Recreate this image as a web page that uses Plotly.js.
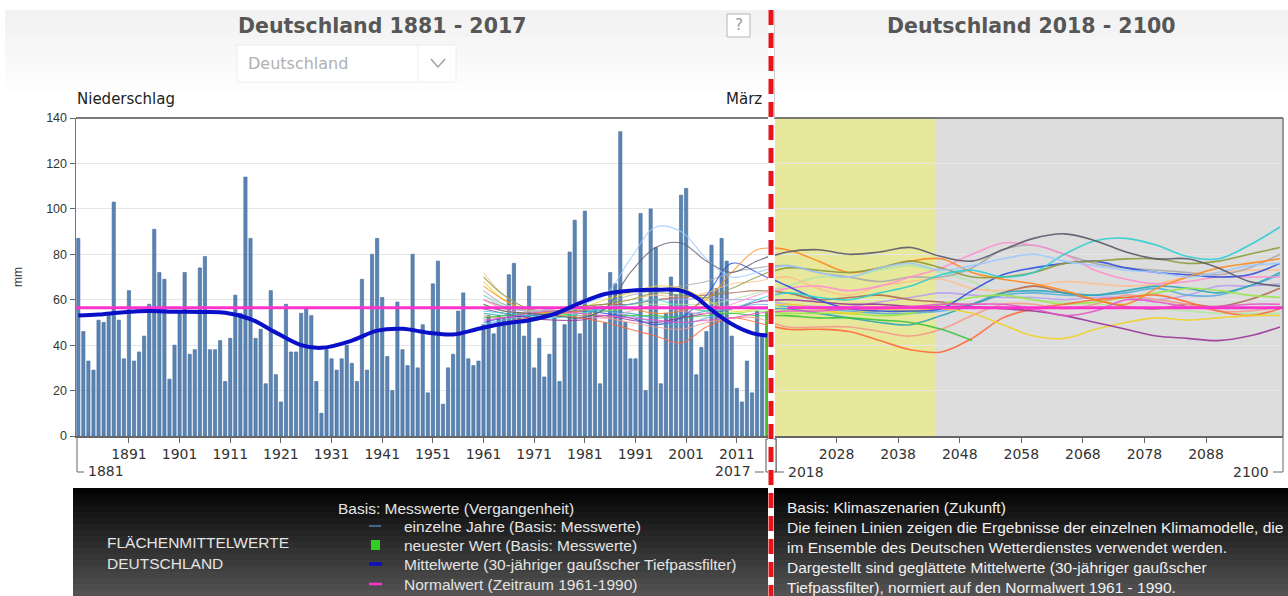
<!DOCTYPE html>
<html><head><meta charset="utf-8">
<script src="https://cdn.plot.ly/plotly-3.0.1.min.js"></script>
<style>html,body{margin:0;padding:0;background:#fff;}#chart{width:1288px;height:596px;}</style>
</head><body><div id="chart"></div>
<script>
// ---------- DATA ----------
const FIRST_YEAR = 1881;
const LAST_YEAR = 2017;
// March precipitation Germany (mm), 1881..2017
const PRECIP = [87,46,33,29,51,50,54,103,51,34, 64,33,37,44,58,91,72,69,25,40,
  55,72,36,38,74,79,38,38,42,24, 43,62,54,114,87,43,47,23,64,27,
  15,58,37,37,54,56,53,24,10,38, 34,29,34,40,32,24,69,29,80,87,
  61,35,20,59,38,31,80,30,49,19, 67,77,14,30,36,55,63,34,31,33,
  49,53,45,53,52,71,76,54,44,66, 30,43,26,36,52,24,49,81,95,45,
  99,55,57,23,50,72,67,134,50,34, 34,98,20,100,83,23,54,70,62,106,
  109,54,27,39,46,84,65,87,77,44, 21,15,33,19,55,45,55];
// 30-year gaussian low-pass (read at sample years)
const SMOOTH_YEARS = [1881,1885,1890,1895,1900,1905,1910,1915,1920,1925,1929,1935,1940,1945,1950,1955,1960,1965,1970,1975,1980,1985,1990,1995,2000,2003,2006,2010,2014,2017];
const SMOOTH_VALS  = [53,53.5,54.5,55,54.7,54.6,54.3,51.5,45.5,40,38.8,42,46.4,47.2,45.5,44.7,47.2,49.5,51,53.7,58.5,62.5,64,64.4,64,61,55.5,49.3,45.3,44.2];
const NORMAL_VALUE = 56.5;      // Normalwert 1961-1990
const NORMAL_YEARS = [1880, 2101];
// climate model ensemble (smoothed, normalised), sampled years
const MODEL_YEARS = [1961,1965,1970,1975,1980,1985,1990,1995,2000,2005,2010,2015,2020,2025,2030,2035,2040,2045,2050,2055,2060,2065,2070,2075,2080,2085,2090,2095,2100];
const M_DARKGRAY = [58,55,54,53,52,56,72,83,85,77,72,77, 81,82,80,81,83,79,77,82,87,89,86,81,78,78,74,68,66];
const M_LIGHTBLUE= [62,57,55,56,58,62,78,92,90,78,70,72, 75,72,70,74,76,73,75,78,80,77,75,73,72,70,72,75,76];
const M_CYAN     = [55,54,53,52,54,56,58,60,57,55,56,60, 63,61,60,63,66,71,73,70,72,80,86,87,84,79,78,84,92];
const M_OLIVE    = [70,62,56,55,57,58,60,63,62,61,65,70, 74,73,72,74,77,74,70,70,72,76,77,78,78,76,77,80,83];
const M_ORANGE   = [66,60,55,54,55,57,56,54,55,60,72,82, 82,77,72,74,77,78,72,69,67,64,60,58,65,70,74,76,78];
const M_BLUE     = [50,52,53,54,55,54,52,49,52,62,76,72, 66,60,56,55,55,56,64,71,74,76,77,74,72,71,70,71,76];
const M_PINK     = [60,56,54,55,53,52,55,57,55,54,58,62, 65,66,64,66,70,74,80,85,84,80,73,69,67,68,70,70,70];
const M_PURPLE   = [56,54,52,51,51,53,51,50,52,54,56,59, 60,59,58,58,57,57,57,56,55,53,50,47,44,43,42,44,48];
const M_YELLOW   = [68,60,55,54,56,60,63,66,65,60,55,56, 58,56,54,56,55,56,54,49,44,43,47,50,52,51,52,53,53];
const M_GREEN    = [52,53,54,54,53,53,53,53,52,53,54,53, 53,52,52,51,50,47,42,null,null,null,null,null,null,null,null,null,null];
const M_REDORANGE= [48,50,52,53,52,50,47,44,41,48,52,50, 47,47,46,42,38,37,43,52,56,58,60,61,62,59,55,53,56];
const M_SALMON   = [53,52,53,55,54,52,50,48,47,50,52,52, 48,48,48,46,44,47,53,58,58,56,58,62,60,58,55,55,57];
const M_LIGHTGRN = [58,55,54,53,53,55,56,56,57,55,54,55, 54,54,54,53,54,58,61,62,60,58,59,61,63,65,64,62,61];
const M_TEAL     = [54,53,53,54,55,55,54,52,53,55,57,56, 56,54,52,50,49,53,58,63,64,63,62,64,66,65,63,66,72];
const M_GRAY     = [64,58,55,54,55,58,62,64,66,68,72,74, 75,72,70,68,70,70,74,82,84,80,76,74,73,72,71,74,80];
const M_BROWN    = [60,57,55,56,57,58,58,60,61,62,63,64, 63,60,61,62,60,59,58,63,66,63,60,57,56,58,57,60,65];
const M_LAVENDER = [57,55,54,55,56,57,58,60,60,61,60,60, 58,57,57,59,61,63,62,61,61,60,61,61,60,62,66,66,67];
const M_MAGENTA  = [51,52,54,55,54,53,52,51,50,51,52,54, 55,55,56,56,57,58,58,58,56,53,55,60,59,57,57,58,58];
const M_SKY      = [49,51,53,55,56,55,53,50,49,52,56,58, 57,56,55,54,54,55,58,62,63,62,62,63,65,62,62,66,71];
const M_PEACH    = [72,62,56,55,56,57,60,62,61,63,67,68, 70,65,62,66,68,69,65,64,66,68,67,66,67,70,72,73,73];
const M_PALEGRN  = [62,58,55,54,54,56,58,58,58,58,60,63, 66,70,70,73,75,72,68,62,60,59,58,57,56,55,54,54,54];
const LEFT_TICKS = [1891,1901,1911,1921,1931,1941,1951,1961,1971,1981,1991,2001,2011];
const RIGHT_TICKS = [2028,2038,2048,2058,2068,2078,2088];
const Y_TICKS = [0,20,40,60,80,100,120,140];
const NEAR_TERM = [2018, 2044];   // highlighted (yellow) period

// ---------- STYLE ----------
const MODELS = [
  [M_PALEGRN,'#b4e6a4'],[M_PEACH,'#ffbf8c'],[M_LAVENDER,'#b8a0ee'],[M_BROWN,'#b06a52'],
  [M_GRAY,'#a8a8a8'],[M_SKY,'#58aee0'],[M_TEAL,'#2ea6b6'],[M_LIGHTGRN,'#9ae64a'],
  [M_SALMON,'#f49a8a'],[M_REDORANGE,'#ff6a3a'],[M_GREEN,'#3cc43c'],[M_YELLOW,'#f0d22a'],
  [M_PURPLE,'#9a3599'],[M_PINK,'#ff90d0'],[M_BLUE,'#3050e0'],[M_ORANGE,'#ff8a1c'],
  [M_OLIVE,'#8c9b3c'],[M_CYAN,'#2ccfd2'],[M_LIGHTBLUE,'#9cc8ff'],[M_MAGENTA,'#e855c8'],[M_DARKGRAY,'#5a5a6a']
];
const W = 1288, H = 596;
const PX = x => x / W, PY = y => 1 - y / H;
const FONT = 'Liberation Sans, Arial, sans-serif';
const DFONT = 'DejaVu Sans, Verdana, sans-serif';

const years = [];
for (let y = FIRST_YEAR; y <= LAST_YEAR; y++) years.push(y);
const barColors = PRECIP.map((v, i) => i === PRECIP.length - 1 ? '#4cbb2a' : '#5a85b3');
const barLines = PRECIP.map((v, i) => i === PRECIP.length - 1 ? '#2e9a1a' : '#41699a');

const traces = [];
traces.push({type:'bar', x: years, y: PRECIP, xaxis:'x', yaxis:'y',
  marker:{color: barColors, line:{color: barLines, width:0.6}}, hoverinfo:'x+y', showlegend:false});
MODELS.forEach(([vals, col]) => {
  traces.push({type:'scatter', mode:'lines', x: MODEL_YEARS, y: vals, xaxis:'x', yaxis:'y',
    line:{color: col, width:1.1, shape:'spline', smoothing:1}, opacity:0.8, hoverinfo:'skip', showlegend:false});
  traces.push({type:'scatter', mode:'lines', x: MODEL_YEARS, y: vals, xaxis:'x2', yaxis:'y',
    line:{color: col, width:1.6, shape:'spline', smoothing:1}, opacity:0.9, hoverinfo:'skip', showlegend:false});
});
traces.push({type:'scatter', mode:'lines', x: NORMAL_YEARS, y: [NORMAL_VALUE, NORMAL_VALUE], xaxis:'x', yaxis:'y',
  line:{color:'#ff33cc', width:3}, hoverinfo:'skip', showlegend:false});
traces.push({type:'scatter', mode:'lines', x: NORMAL_YEARS.map(v=>v+140), y: [NORMAL_VALUE, NORMAL_VALUE], xaxis:'x2', yaxis:'y',
  line:{color:'#ff33cc', width:3}, hoverinfo:'skip', showlegend:false});
traces.push({type:'scatter', mode:'lines', x: SMOOTH_YEARS, y: SMOOTH_VALS, xaxis:'x', yaxis:'y',
  line:{color:'#0a10c8', width:4, shape:'spline', smoothing:1}, hoverinfo:'skip', showlegend:false});

// ---------- SHAPES ----------
const shapes = [];
const rectPx = (x0,y0,x1,y1,fill,lineColor,lw,layer) => shapes.push({type:'rect', xref:'paper', yref:'paper',
  x0:PX(x0), x1:PX(x1), y0:PY(y1), y1:PY(y0), fillcolor:fill, line:{color:lineColor||fill, width: lw===undefined?0:lw}, layer: layer||'above'});
const linePx = (x0,y0,x1,y1,color,w,dash) => shapes.push({type:'line', xref:'paper', yref:'paper',
  x0:PX(x0), x1:PX(x1), y0:PY(y0), y1:PY(y1), line:{color, width:w, dash:dash||'solid'}, layer:'above'});

// header gradient
const hdr = ['#f2f2f2','#f3f3f3','#f4f4f4','#f6f6f6','#f7f7f7','#f9f9f9','#fafafa','#fcfcfc','#fdfdfd'];
hdr.forEach((c,i)=> rectPx(5, 10+i*9, 1288, 10+(i+1)*9, c, c, 0, 'below'));
// dropdown
rectPx(237,45,456,82,'#ffffff','#ececec',1,'below');
linePx(418,45,418,82,'#ececec',1);
shapes.push({type:'path', xref:'paper', yref:'paper', path:`M ${PX(431)} ${PY(59)} L ${PX(438)} ${PY(67)} L ${PX(445)} ${PY(59)}`, line:{color:'#9a9a9a', width:1.3}});
// help box
rectPx(727,14,750,37,'#ffffff','#b5b5b5',1,'below');
// plot backgrounds (future)
shapes.push({type:'rect', xref:'x2', yref:'y', x0:2017.5, x1:2101, y0:0, y1:140, fillcolor:'#dddddd', line:{width:0}, layer:'below'});
shapes.push({type:'rect', xref:'x2', yref:'y', x0:NEAR_TERM[0]-0.5, x1:NEAR_TERM[1], y0:0, y1:140, fillcolor:'#e8e89c', line:{width:0}, layer:'below'});
// frame
linePx(76,118,1283,118,'#7a7a7a',2.2);
linePx(1283,118,1283,436,'#7a7a7a',1.5);
// bottom brackets
linePx(77,436,77,472,'#666',1); linePx(77,472,84,472,'#666',1);
linePx(755,472,764,472,'#666',1);
linePx(776,436,776,472,'#666',1); linePx(776,472,784,472,'#666',1);
linePx(1273,472,1283,472,'#666',1); linePx(1283,436,1283,472,'#666',1);
rectPx(766,439,776,472,'#ffffff','#555',1);
// legend box gradient
const NB = 18;
for (let i=0;i<NB;i++){
  const v = Math.round(4 + i*(78/(NB-1)));
  const c = `rgb(${v},${v},${v})`;
  rectPx(73, 488+i*6, 1288, 488+(i+1)*6+0.5, c, c, 0);
}
// legend symbols
linePx(369,526,381,526,'#4f7fb0',1.5);
rectPx(371,540,380,550,'#33cc22','#33cc22',0);
linePx(369,564,382,564,'#0a10c8',3.5);
linePx(369,584,382,584,'#ff33cc',2.5);
// separator dashed line
linePx(771,10,771,596,'#ffffff',6);
linePx(774.5,10,774.5,118,'#d0d0d0',1);
shapes.push({type:'line', xref:'paper', yref:'paper', x0:PX(771), x1:PX(771), y0:PY(10), y1:PY(596),
  line:{color:'#e8141c', width:5, dash:'15px,8px'}, layer:'above'});

// ---------- ANNOTATIONS ----------
const ann = [];
const txt = (x,y,text,opts={}) => ann.push(Object.assign({xref:'paper', yref:'paper', x:PX(x), y:PY(y), text,
  showarrow:false, xanchor:'left', yanchor:'middle', font:{family:FONT, size:13, color:'#222'}}, opts));
txt(382,26,'<b>Deutschland 1881 - 2017</b>',{xanchor:'center', font:{family:DFONT,size:20.5,color:'#575757'}});
txt(1031,26,'<b>Deutschland 2018 - 2100</b>',{xanchor:'center', font:{family:DFONT,size:20.5,color:'#575757'}});
txt(246,64,'Deutschland',{font:{family:DFONT,size:16,color:'#b0b0b0'}});
txt(738.5,25.5,'?',{xanchor:'center', font:{family:DFONT,size:15,color:'#9a9a9a'}});
txt(75,99,'Niederschlag',{font:{family:DFONT,size:15,color:'#222'}});
txt(764,99,'März',{xanchor:'right', font:{family:DFONT,size:15,color:'#222'}});
txt(18,277,'mm',{xanchor:'center', textangle:-90, font:{family:FONT,size:12,color:'#333'}});
const BF = {family:DFONT, size:14, color:'#333'};
txt(86,471,'1881',{font:BF});
txt(753,471,'2017',{xanchor:'right', font:BF});
txt(786,472,'2018',{font:BF});
txt(1271,472,'2100',{xanchor:'right', font:BF});
const LG = {family:FONT, size:15.5, color:'#e4e4e4'};
txt(105,542,'FLÄCHENMITTELWERTE',{font:LG});
txt(105,563,'DEUTSCHLAND',{font:LG});
txt(336,508,'Basis: Messwerte (Vergangenheit)',{font:LG});
txt(402,526,'einzelne Jahre (Basis: Messwerte)',{font:LG});
txt(402,545,'neuester Wert (Basis: Messwerte)',{font:LG});
txt(402,564,'Mittelwerte (30-jähriger gaußscher Tiefpassfilter)',{font:LG});
txt(402,584,'Normalwert (Zeitraum 1961-1990)',{font:LG});
const RG = {family:FONT, size:15.5, color:'#f0f0f0'};
txt(785,507,'Basis: Klimaszenarien (Zukunft)',{font:RG});
txt(785,527,'Die feinen Linien zeigen die Ergebnisse der einzelnen Klimamodelle, die',{font:RG});
txt(785,547,'im Ensemble des Deutschen Wetterdienstes verwendet werden.',{font:RG});
txt(785,567,'Dargestellt sind geglättete Mittelwerte (30-jähriger gaußscher',{font:RG});
txt(785,587,'Tiefpassfilter), normiert auf den Normalwert 1961 - 1990.',{font:RG});

// ---------- LAYOUT ----------
const xTickFont = {family:DFONT, size:14, color:'#333'};
const yTickFont = {family:FONT, size:12.5, color:'#333'};
const layout = {
  width:W, height:H, margin:{l:0,r:0,t:0,b:0}, paper_bgcolor:'#ffffff', plot_bgcolor:'#ffffff',
  showlegend:false, bargap:0.36,
  xaxis:{domain:[PX(76),PX(771)], range:[1880.55,2017.75], anchor:'y', tickmode:'array', tickvals:LEFT_TICKS,
    ticks:'outside', ticklen:5, tickcolor:'#666', showgrid:false, zeroline:false, showline:true, linecolor:'#666', linewidth:1.5,
    tickfont:xTickFont, fixedrange:true},
  xaxis2:{domain:[PX(775),PX(1283)], range:[2018,2100.5], anchor:'y', tickmode:'array', tickvals:RIGHT_TICKS,
    ticks:'outside', ticklen:5, tickcolor:'#666', showgrid:false, zeroline:false, showline:true, linecolor:'#666', linewidth:1.5,
    tickfont:xTickFont, fixedrange:true},
  yaxis:{domain:[PY(436),PY(118)], range:[0,140], tickmode:'array', tickvals:Y_TICKS, ticks:'outside', ticklen:5, tickcolor:'#666',
    showgrid:true, gridcolor:'#e6e6e6', gridwidth:1, zeroline:false, showline:true, linecolor:'#777', linewidth:1.5,
    tickfont:yTickFont, fixedrange:true},
  shapes, annotations: ann
};
Plotly.newPlot('chart', traces, layout, {staticPlot:true, displayModeBar:false});
</script></body></html>
